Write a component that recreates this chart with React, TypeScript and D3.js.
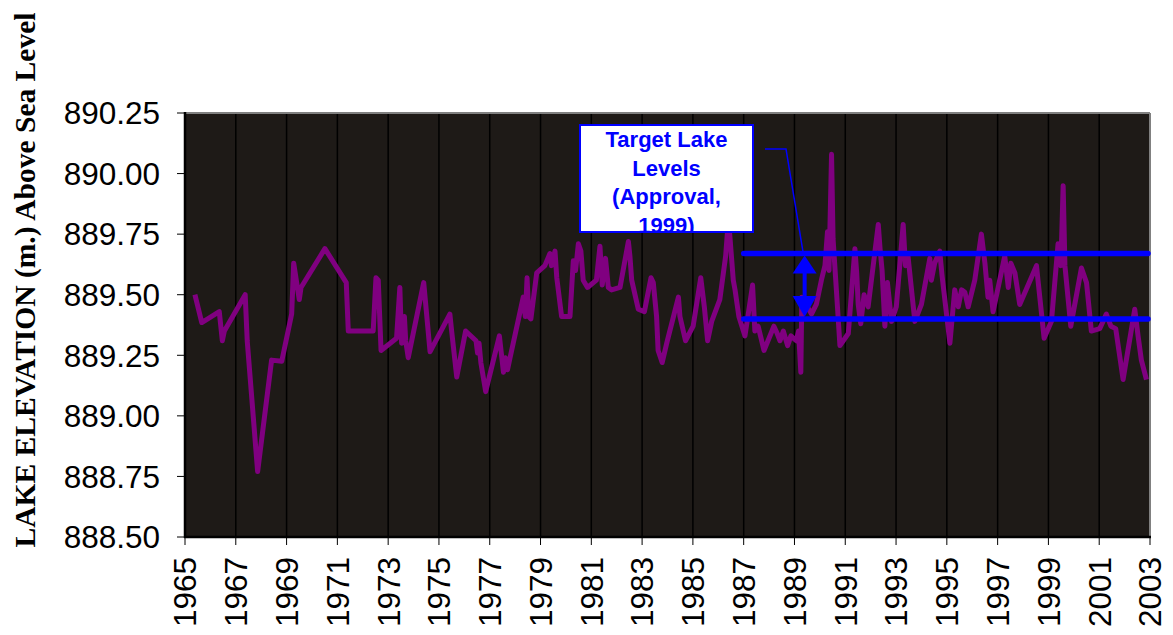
import React from "react";
import * as d3 from "d3";

const dates = [
  1965.39, 1965.66, 1966.35, 1966.47, 1966.55, 1967.37, 1967.45, 1967.86, 1968.41, 1968.81,
  1969.2, 1969.28, 1969.5, 1969.57, 1970.51, 1971.35, 1971.43, 1972.41, 1972.52, 1972.61,
  1972.72, 1973.33, 1973.46, 1973.53, 1973.64, 1973.69, 1973.79, 1974.4, 1974.65, 1975.43,
  1975.5, 1975.7, 1976.05, 1976.46, 1976.52, 1976.58, 1976.65, 1976.84, 1977.38, 1977.54,
  1977.62, 1977.7, 1977.8, 1978.32, 1978.4, 1978.47, 1978.54, 1978.62, 1978.85, 1979.17,
  1979.37, 1979.43, 1979.57, 1979.64, 1979.83, 1980.16, 1980.29, 1980.38, 1980.49, 1980.59,
  1980.68, 1980.85, 1981.2, 1981.34, 1981.43, 1981.56, 1981.67, 1981.8, 1982.13, 1982.46,
  1982.52, 1982.59, 1982.85, 1983.09, 1983.35, 1983.44, 1983.57, 1983.63, 1983.79, 1983.97,
  1984.43, 1984.49, 1984.71, 1985.01, 1985.31, 1985.45, 1985.58, 1985.74, 1986.06, 1986.29,
  1986.39, 1986.45, 1986.59, 1986.66, 1986.81, 1987.05, 1987.18, 1987.35, 1987.44, 1987.57,
  1987.8, 1988.19, 1988.32, 1988.43, 1988.56, 1988.73, 1988.86, 1989.07, 1989.16, 1989.25,
  1989.29, 1989.46, 1989.67, 1989.86, 1990.06, 1990.2, 1990.3, 1990.36, 1990.46, 1990.52,
  1990.65, 1990.79, 1991.12, 1991.38, 1991.45, 1991.51, 1991.61, 1991.74, 1991.9, 1992.3,
  1992.37, 1992.45, 1992.56, 1992.66, 1992.82, 1993.01, 1993.28, 1993.37, 1993.47, 1993.64,
  1993.74, 1994.0, 1994.33, 1994.39, 1994.52, 1994.72, 1994.81, 1995.12, 1995.31, 1995.45,
  1995.58, 1995.71, 1995.84, 1996.1, 1996.36, 1996.5, 1996.62, 1996.69, 1996.82, 1997.28,
  1997.42, 1997.52, 1997.68, 1997.87, 1998.53, 1998.59, 1998.83, 1999.12, 1999.38, 1999.49,
  1999.58, 1999.65, 1999.88, 2000.3, 2000.5, 2000.69, 2001.02, 2001.28, 2001.46, 2001.65,
  2001.94, 2002.4, 2002.53, 2002.66, 2002.86,
];

const levels = [
  889.5, 889.385, 889.43, 889.31, 889.35, 889.5, 889.31, 888.77, 889.23, 889.225,
  889.42, 889.63, 889.48, 889.53, 889.69, 889.55, 889.35, 889.35, 889.57, 889.56,
  889.27, 889.32, 889.53, 889.3, 889.41, 889.31, 889.24, 889.55, 889.265, 889.42,
  889.35, 889.16, 889.35, 889.31, 889.26, 889.3, 889.22, 889.1, 889.33, 889.18,
  889.24, 889.19, 889.24, 889.49, 889.41, 889.57, 889.41, 889.4, 889.59, 889.62,
  889.67, 889.62, 889.68, 889.57, 889.41, 889.41, 889.64, 889.6, 889.71, 889.68,
  889.56, 889.53, 889.56, 889.7, 889.54, 889.65, 889.53, 889.52, 889.53, 889.72,
  889.66, 889.56, 889.44, 889.43, 889.57, 889.55, 889.41, 889.27, 889.22, 889.3,
  889.49, 889.41, 889.31, 889.37, 889.57, 889.45, 889.31, 889.39, 889.48, 889.66,
  889.8, 889.75, 889.56, 889.52, 889.41, 889.33, 889.42, 889.54, 889.35, 889.37,
  889.27, 889.37, 889.34, 889.31, 889.35, 889.29, 889.33, 889.31, 889.35, 889.18,
  889.49, 889.46, 889.42, 889.46, 889.56, 889.62, 889.76, 889.6, 890.08, 889.73,
  889.52, 889.29, 889.34, 889.69, 889.59, 889.46, 889.38, 889.5, 889.45, 889.79,
  889.69, 889.6, 889.37, 889.55, 889.39, 889.45, 889.79, 889.62, 889.66, 889.49,
  889.39, 889.46, 889.65, 889.56, 889.63, 889.68, 889.58, 889.3, 889.52, 889.45,
  889.52, 889.51, 889.45, 889.56, 889.75, 889.63, 889.49, 889.56, 889.43, 889.66,
  889.53, 889.63, 889.59, 889.46, 889.62, 889.56, 889.32, 889.39, 889.71, 889.62,
  889.95, 889.62, 889.37, 889.61, 889.55, 889.35, 889.36, 889.42, 889.37, 889.36,
  889.15, 889.44, 889.33, 889.23, 889.15,
];

const yearTicks = d3.range(1965, 2004, 2);
const levelTicks = [888.5, 888.75, 889.0, 889.25, 889.5, 889.75, 890.0, 890.25];

const targetUpper = 889.67;
const targetLower = 889.4;
const targetStart = 1987;
const targetEnd = 2003;
const arrowYear = 1989.4;

const calloutLines = ["Target Lake", "Levels", "(Approval,", "1999)"];
const yTitle = "LAKE ELEVATION (m.) Above Sea Level";

const W = 1173;
const H = 635;
const L = 185;
const R = 1150;
const T = 113;
const B = 537;

export default function App() {
  const x = d3.scaleLinear().domain([1965, 2003]).range([L, R]);
  const y = d3.scaleLinear().domain([888.5, 890.25]).range([B, T]);
  const pts: [number, number][] = dates.map((d, i) => [d, levels[i]]);
  const line = d3
    .line<[number, number]>()
    .x((d) => x(d[0]))
    .y((d) => y(d[1]));

  const sans = "'Liberation Sans', Arial, Helvetica, sans-serif";
  const serif = "'Liberation Serif', 'Times New Roman', serif";

  const uY = y(targetUpper);
  const lY = y(targetLower);
  const ax = x(arrowYear);

  const box = { x: 580, y: 125, w: 173, h: 107 };

  return (
    <svg
      width={W}
      height={H}
      style={{ position: "absolute", left: 0, top: 0, background: "#fff" }}
    >
      <defs>
        <clipPath id="plotclip">
          <rect x={L} y={T} width={R - L} height={B - T} />
        </clipPath>
        <clipPath id="boxclip">
          <rect x={box.x} y={box.y} width={box.w} height={box.h} />
        </clipPath>
      </defs>
      <rect x={0} y={0} width={W} height={H} fill="#fff" />
      <rect x={L} y={T} width={R - L} height={B - T} fill="#1e1a17" />
      {yearTicks.slice(1, -1).map((t) => (
        <line key={t} x1={x(t)} x2={x(t)} y1={T} y2={B} stroke="#000" strokeWidth={1.5} />
      ))}
      <line x1={L} x2={R} y1={T} y2={T} stroke="#808080" strokeWidth={2} />
      <line x1={R} x2={R} y1={T} y2={B} stroke="#808080" strokeWidth={2} />
      <path
        d={line(pts) || ""}
        fill="none"
        stroke="#800080"
        strokeWidth={5}
        strokeLinejoin="round"
        clipPath="url(#plotclip)"
      />
      <line x1={x(targetStart)} x2={x(targetEnd) - 2} y1={uY} y2={uY} stroke="#0000ff" strokeWidth={5.5} strokeLinecap="round" />
      <line x1={x(targetStart)} x2={x(targetEnd) - 2} y1={lY} y2={lY} stroke="#0000ff" strokeWidth={5.5} strokeLinecap="round" />
      <rect x={ax - 2} y={uY + 18} width={4} height={lY - uY - 38} fill="#0000ff" />
      <path d={`M${ax},${uY + 2} L${ax + 12},${uY + 20} L${ax - 12},${uY + 20} Z`} fill="#0000ff" />
      <path d={`M${ax},${lY - 2} L${ax + 12},${lY - 23} L${ax - 12},${lY - 23} Z`} fill="#0000ff" />
      <path
        d={`M765,149 L786,149 L${ax - 1},${uY + 2}`}
        fill="none"
        stroke="#0000ff"
        strokeWidth={1.5}
      />
      <rect x={box.x} y={box.y} width={box.w} height={box.h} fill="#fff" />
      <g clipPath="url(#boxclip)">
        {calloutLines.map((s, i) => (
          <text
            key={s}
            x={box.x + box.w / 2}
            y={147 + i * 28.5}
            textAnchor="middle"
            fontFamily={sans}
            fontWeight="bold"
            fontSize={22}
            fill="#0000ff"
          >
            {s}
          </text>
        ))}
      </g>
      <rect x={box.x} y={box.y} width={box.w} height={box.h} fill="none" stroke="#0000ff" strokeWidth={2} />
      <line x1={L} x2={L} y1={T - 1} y2={B + 1} stroke="#000" strokeWidth={2.5} />
      <line x1={L - 1} x2={R + 1} y1={B} y2={B} stroke="#000" strokeWidth={2.5} />
      {levelTicks.map((t) => (
        <g key={t}>
          <line x1={L - 8} x2={L} y1={y(t)} y2={y(t)} stroke="#000" strokeWidth={1} />
          <text
            x={L - 25}
            y={y(t)}
            dy="0.36em"
            textAnchor="end"
            fontFamily={sans}
            fontSize={31.5}
            fill="#000"
          >
            {t.toFixed(2)}
          </text>
        </g>
      ))}
      {yearTicks.map((t) => (
        <g key={t}>
          <line x1={x(t)} x2={x(t)} y1={B} y2={B + 8} stroke="#000" strokeWidth={1} />
          <text
            transform={`translate(${x(t)},${B + 20}) rotate(-90)`}
            dy="0.36em"
            textAnchor="end"
            fontFamily={sans}
            fontSize={31.5}
            fill="#000"
          >
            {t}
          </text>
        </g>
      ))}
      <text
        transform={`translate(35,280) rotate(-90)`}
        textAnchor="middle"
        fontFamily={serif}
        fontWeight="bold"
        fontSize={29.5}
        fill="#000"
      >
        {yTitle}
      </text>
    </svg>
  );
}
